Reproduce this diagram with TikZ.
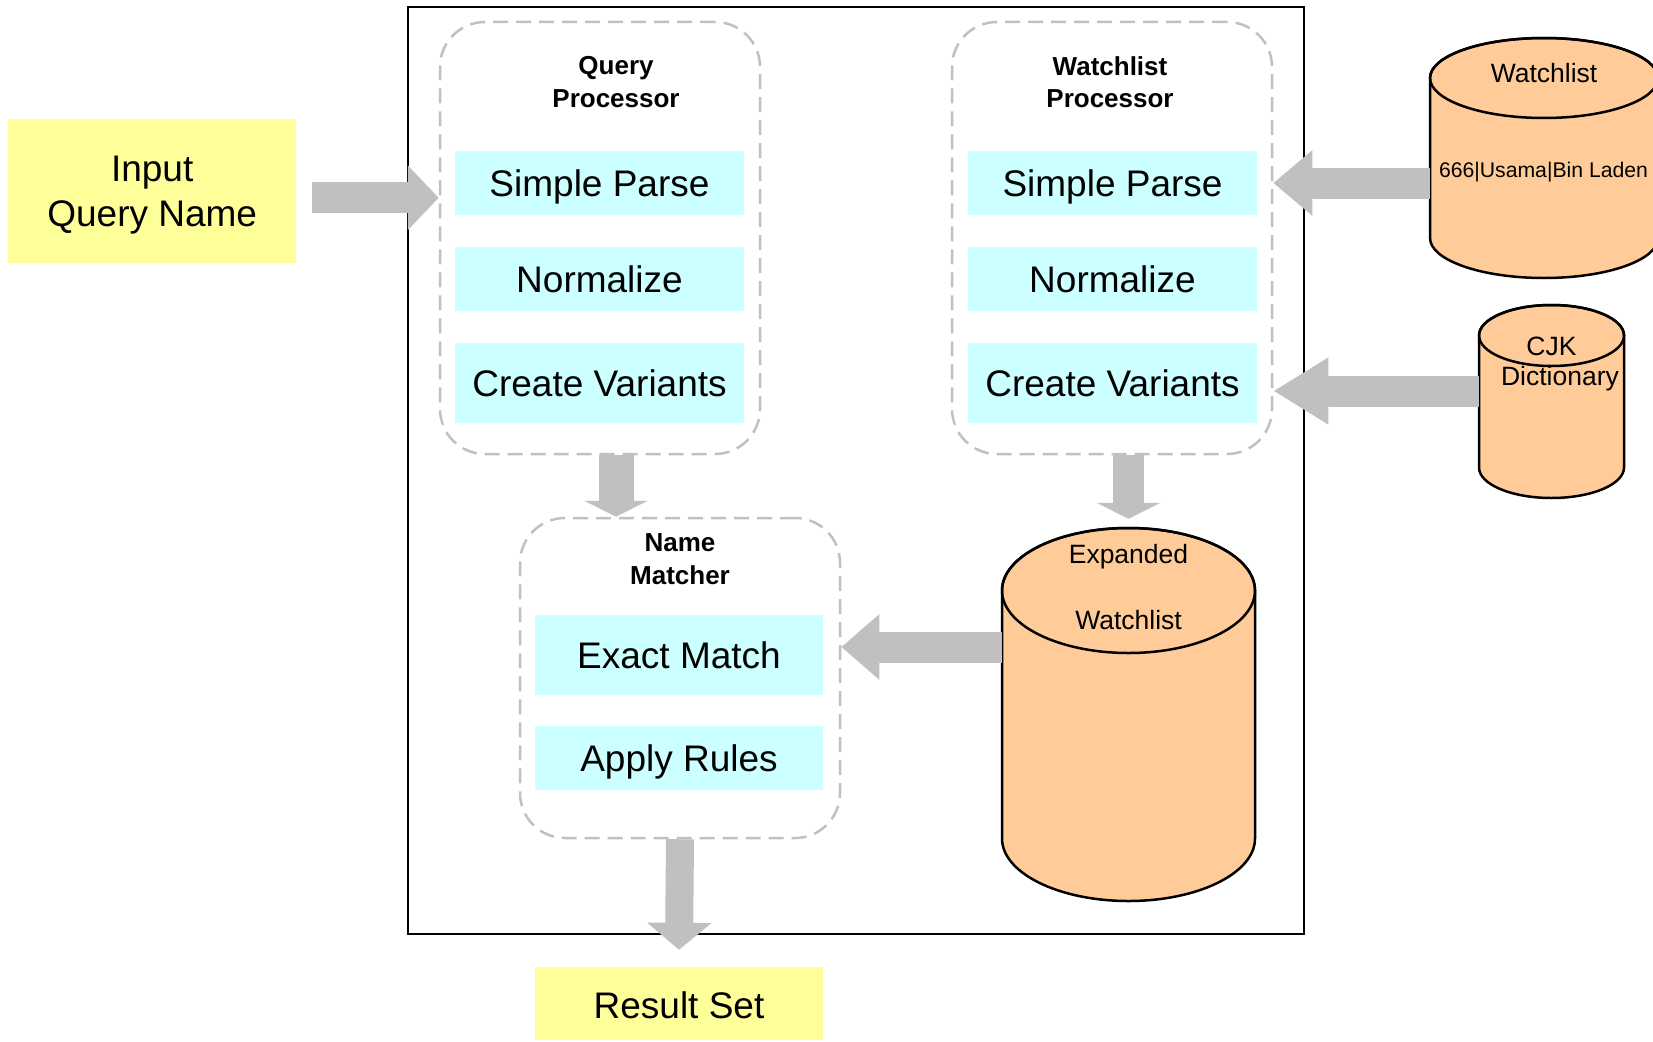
\documentclass[tikz,border=0pt]{standalone}
\usepackage{fontspec}
\setmainfont{Liberation Sans}
\usetikzlibrary{arrows.meta}

\definecolor{noteyellow}{HTML}{FFFF99}
\definecolor{stepcyan}{HTML}{CCFFFF}
\definecolor{dbpeach}{HTML}{FFCC99}
\definecolor{flowgray}{HTML}{C0C0C0}

\tikzset{
  notebox/.style={fill=noteyellow, inner sep=0pt, align=center, text depth=0pt, font=\fontsize{37}{45}\selectfont},
  stepbox/.style={fill=stepcyan, inner sep=0pt, text depth=0pt, minimum width=289pt, minimum height=64pt, font=\fontsize{37}{45}\selectfont},
  groupbox/.style={draw=flowgray, line width=2.5pt, dash pattern=on 15pt off 8pt, rounded corners=45pt, inner sep=0pt, minimum width=320pt},
  grouptitle/.style={align=center, font=\bfseries\fontsize{26}{32.5}\selectfont},
  dblabel/.style={align=center, font=\fontsize{26.5}{33}\selectfont},
  flow/.style={draw=flowgray, line width=31pt, -{Triangle[width=63pt, length=#1]}},
  flow/.default=30pt,
}

% cylinder: name, centre x, top, bottom, x radius, y radius
\newcommand{\dbcylinder}[6]{%
  \filldraw[fill=dbpeach, line width=2.5pt] (#2-#5,#3+#6) -- (#2-#5,#4-#6)
    arc[start angle=180, end angle=0, x radius=#5, y radius=#6]
    -- (#2+#5,#3+#6)
    arc[start angle=0, end angle=-180, x radius=#5, y radius=#6] -- cycle;
  \draw[line width=2.5pt] (#2,#3+#6) ellipse[x radius=#5, y radius=#6];
  \node[inner sep=0pt, minimum width={2*#5pt}, minimum height={(#4-#3)*1pt}] (#1) at (#2,{(#3+#4)/2}) {};
}

\begin{document}
\begin{tikzpicture}[x=1pt, y=-1pt]
  \useasboundingbox (0,0) rectangle (1653,1041);

  % MATCHING ENGINE FRAME
  \node[draw, line width=2.5pt, inner sep=0pt, minimum width=896pt, minimum height=927pt] (engine) at (856,470.7) {};

  % INPUT AND OUTPUT
  \node[notebox, minimum width=288pt, minimum height=143.5pt] (inq) at (152.2,190.8) {Input\\Query Name};
  \node[notebox, minimum width=288pt, minimum height=73pt, text height=30pt] (result) at (679,1003.5) {Result Set};

  % QUERY PROCESSOR
  \node[groupbox, minimum height=432pt] (qproc) at (600,238) {};
  \node[grouptitle] (qtitle) at (616,82) {Query\\Processor};
  \node[stepbox] (qparse) at (599.5,183) {Simple Parse};
  \node[stepbox] (qnorm) at (599.5,279) {Normalize};
  \node[stepbox, minimum height=80pt] (qvar) at (599.5,383) {Create Variants};

  % WATCHLIST PROCESSOR
  \node[groupbox, minimum height=432pt] (wproc) at (1112,238) {};
  \node[grouptitle] (wtitle) at (1110,82) {Watchlist\\Processor};
  \node[stepbox] (wparse) at (1112.5,183) {Simple Parse};
  \node[stepbox] (wnorm) at (1112.5,279) {Normalize};
  \node[stepbox, minimum height=80pt] (wvar) at (1112.5,383) {Create Variants};

  % NAME MATCHER
  \node[groupbox, minimum height=320pt] (nmatch) at (680,678) {};
  \node[grouptitle] (ntitle) at (680,559) {Name\\Matcher};
  \node[stepbox, minimum width=288pt, minimum height=80pt] (nexact) at (679,655) {Exact Match};
  \node[stepbox, minimum width=288pt] (nrules) at (679,758) {Apply Rules};

  % DATA STORES
  \dbcylinder{wlist}{1544}{38}{278}{114}{40}
  \node[dblabel] (wlistname) at (1544,73) {Watchlist};
  \node[font=\fontsize{21.2}{26}\selectfont] (wlistrow) at (1543.5,172) {666|Usama|Bin Laden};

  \dbcylinder{cjk}{1551.5}{305}{498}{72.5}{30.5}
  \node[dblabel] (cjkname) at (1551.5,346) {CJK};
  \node[dblabel] (cjkdict) at (1560,379) {Dictionary};

  \dbcylinder{xwl}{1128.5}{528}{901}{126.5}{62.5}
  \node[dblabel] (xwlname) at (1128.5,587) {Expanded\\[33pt]Watchlist};

  % FLOWS
  \path (inq.east) ++(16,7) coordinate (inq-out);
  \draw[flow=31pt] (inq-out) -- (inq-out -| qproc.west);

  \draw[flow=39pt] (wlist.west |- wparse) -- (wproc.east |- wparse);

  \path (wvar.east) ++(0,8) coordinate (cjk-in);
  \draw[flow=55pt] (cjk-in -| cjk.west) -- (cjk-in -| wproc.east);

  \draw[flow=16pt, line width=35pt] (qtitle |- qproc.south) -- (qtitle |- nmatch.north);
  \draw[flow=16pt] (xwl |- wproc.south) -- ([yshift=9pt]xwl.north);

  \path (nexact.east) ++(0,-8) coordinate (xwl-out);
  \draw[flow=38pt] (xwl-out -| xwl.west) -- (xwl-out -| nmatch.east);

  \draw[flow=27pt, line width=28pt] (nmatch.south) -- ([yshift=17pt]result.north);
\end{tikzpicture}
\end{document}
